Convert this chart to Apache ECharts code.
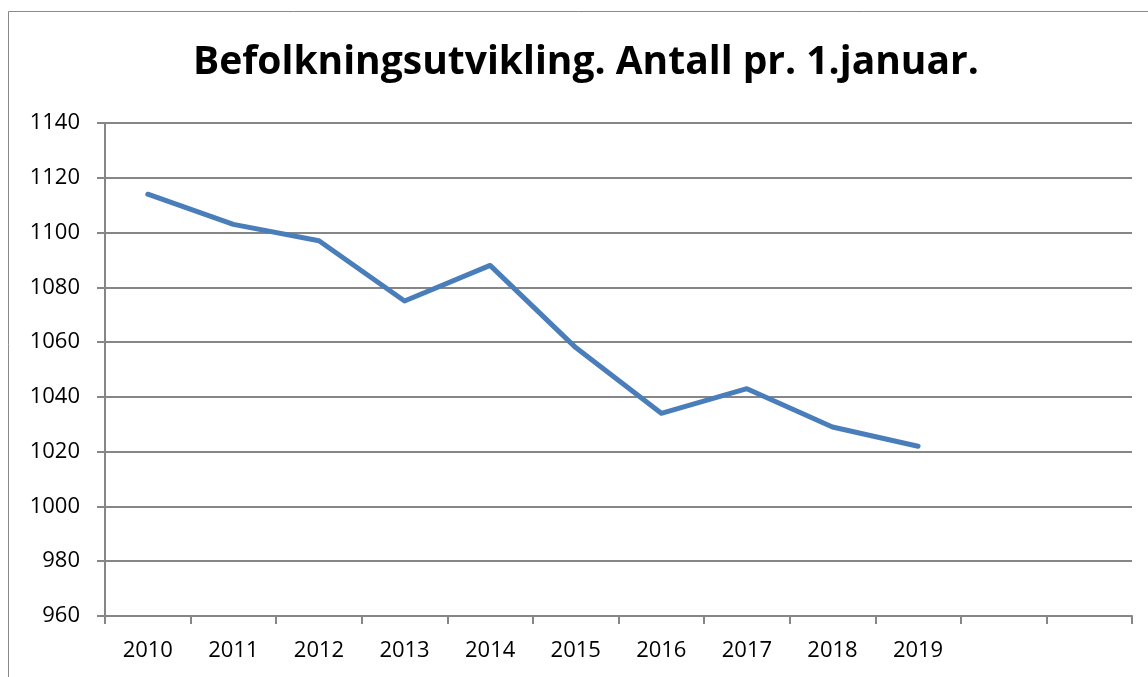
<!DOCTYPE html>
<html>
<head>
<meta charset="utf-8">
<script src="https://cdn.jsdelivr.net/npm/echarts@6/dist/echarts.min.js"></script>
<style>html,body{margin:0;padding:0;background:#fff}#c{width:1148px;height:677px}</style>
</head>
<body>
<div id="c"></div>
<script>
const titleText = 'Befolkningsutvikling. Antall pr. 1.januar.';
const categories = ['2010','2011','2012','2013','2014','2015','2016','2017','2018','2019','',''];
const population = [1114,1103,1097,1075,1088,1058,1034,1043,1029,1022];
const yMin = 960, yMax = 1140, yStep = 20;

const chart = echarts.init(document.getElementById('c'));
chart.setOption({
  animation: false,
  backgroundColor: '#fff',
  graphic: [{
    type: 'rect', silent: true,
    shape: { x: 8.5, y: 11.5, width: 1200, height: 700 },
    style: { fill: 'none', stroke: '#8a8a8a', lineWidth: 1 }
  }],
  title: {
    text: titleText, left: 188, top: 38,
    textStyle: { fontFamily: 'Open Sans', fontWeight: 'bold', fontSize: 39, color: '#000' }
  },
  grid: { left: 105, right: 16, top: 123, bottom: 61, containLabel: false },
  xAxis: {
    type: 'category', data: categories, boundaryGap: true,
    axisLine: { lineStyle: { color: '#868686', width: 2 } },
    axisTick: { show: true, interval: 0, length: 8, lineStyle: { color: '#868686', width: 2 } },
    axisLabel: { interval: 0, margin: 24, fontFamily: 'Open Sans', fontSize: 22, color: '#000' },
    splitLine: { show: false }
  },
  yAxis: {
    type: 'value', min: yMin, max: yMax, interval: yStep,
    axisLine: { show: true, lineStyle: { color: '#868686', width: 2 } },
    axisTick: { show: true, length: 8, lineStyle: { color: '#868686', width: 2 } },
    axisLabel: { margin: 25, fontFamily: 'Open Sans', fontSize: 22, color: '#000',
      formatter: v => String(v) },
    splitLine: { show: true, lineStyle: { color: '#868686', width: 2 } }
  },
  series: [{
    type: 'line', data: population, symbol: 'none',
    lineStyle: { color: '#4A7EBB', width: 5, cap: 'round', join: 'round' }
  }]
});
</script>
</body>
</html>
